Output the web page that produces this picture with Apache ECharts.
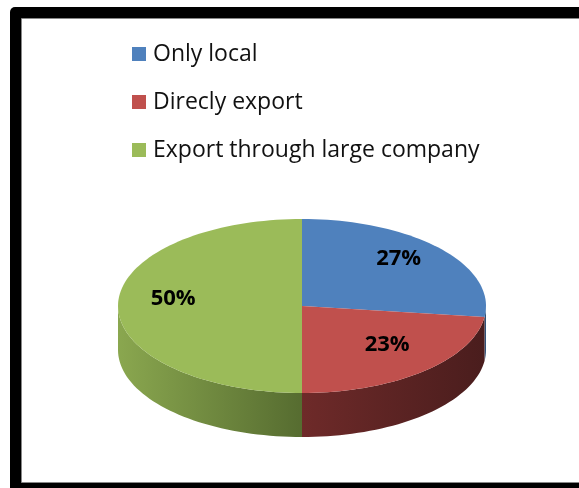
<!DOCTYPE html>
<html><head><meta charset="utf-8">
<script src="https://cdn.jsdelivr.net/npm/echarts@6/dist/echarts.min.js"></script>
<style>html,body{margin:0;padding:0;background:#fff}#c{width:579px;height:488px}</style>
</head><body><div id="c"></div>
<script>
var categories = ['Only local', 'Direcly export', 'Export through large company'];
var values = [27, 23, 50];
var labels = ['27%', '23%', '50%'];
var topColors = ['#4f81bd', '#c0504d', '#9bbb59'];
var wallColors = [['#3a5f8c', '#2c4a6e'], ['#6e2a29', '#4a1d1d'], ['#8aa74f', '#566c30']];

var CX = 302, CY = 306, RX = 184, RY = 87, DEPTH = 44;
var total = values.reduce(function (a, b) { return a + b; }, 0);
function startAngle(i) { var s = 0; for (var k = 0; k < i; k++) s += values[k]; return s / total * 360; }
function pt(deg, dy) {
  var r = deg * Math.PI / 180;
  return [CX + RX * Math.sin(r), CY - RY * Math.cos(r) + (dy || 0)];
}
function arcPts(a0, a1, dy) {
  var pts = [], n = Math.max(4, Math.ceil(Math.abs(a1 - a0) / 2));
  for (var j = 0; j <= n; j++) pts.push(pt(a0 + (a1 - a0) * j / n, dy));
  return pts;
}

function makeSeries(i) {
  return {
    type: 'custom',
    name: categories[i],
    coordinateSystem: 'none',
    itemStyle: { color: topColors[i] },
    data: [values[i]],
    renderItem: function (params, api) {
      var a0 = startAngle(i), a1 = a0 + api.value(0) / total * 360;
      var children = [];
      var w0 = Math.max(a0, 90), w1 = Math.min(a1, 270);
      if (w1 > w0) {
        var topArc = arcPts(w0, w1, 0);
        var botArc = arcPts(w1, w0, DEPTH);
        var grad = new echarts.graphic.LinearGradient(0, 0, 1, 0, [
          { offset: 0, color: wallColors[i][0] },
          { offset: 1, color: wallColors[i][1] }
        ]);
        children.push({ type: 'polygon', shape: { points: topArc.concat(botArc) }, style: { fill: grad }, z2: 1 });
      }
      var topPts = [[CX, CY]].concat(arcPts(a0, a1, 0));
      children.push({ type: 'polygon', shape: { points: topPts }, style: { fill: topColors[i] }, z2: 2 });
      var mid = (a0 + a1) / 2 * Math.PI / 180;
      var lp = [CX + RX * 0.7 * Math.sin(mid), CY - RY * 0.7 * Math.cos(mid) - 7];
      children.push({ type: 'text', x: lp[0], y: lp[1], z2: 3,
        style: { text: labels[i], fill: '#000', font: 'bold 22px "Open Sans", sans-serif', align: 'center', verticalAlign: 'middle' } });
      return { type: 'group', children: children };
    }
  };
}

var chart = echarts.init(document.getElementById('c'), null, { renderer: 'canvas' });
chart.setOption({
  animation: false,
  graphic: [
    { type: 'rect', left: 10, top: 7, shape: { width: 600, height: 500, r: [5, 0, 0, 0] }, style: { fill: '#000' }, z: -10 },
    { type: 'rect', left: 21, top: 18, shape: { width: 600, height: 464 }, style: { fill: '#fff', stroke: '#888', lineWidth: 1 }, z: -9 }
  ],
  legend: {
    orient: 'vertical', left: 127, top: 37, itemGap: 24,
    icon: 'rect', itemWidth: 14, itemHeight: 14,
    data: categories,
    textStyle: { fontSize: 23, lineHeight: 24, color: '#111', fontFamily: 'Open Sans', padding: [0, 0, 0, 2] }
  },
  series: [makeSeries(0), makeSeries(1), makeSeries(2)]
});
</script></body></html>
